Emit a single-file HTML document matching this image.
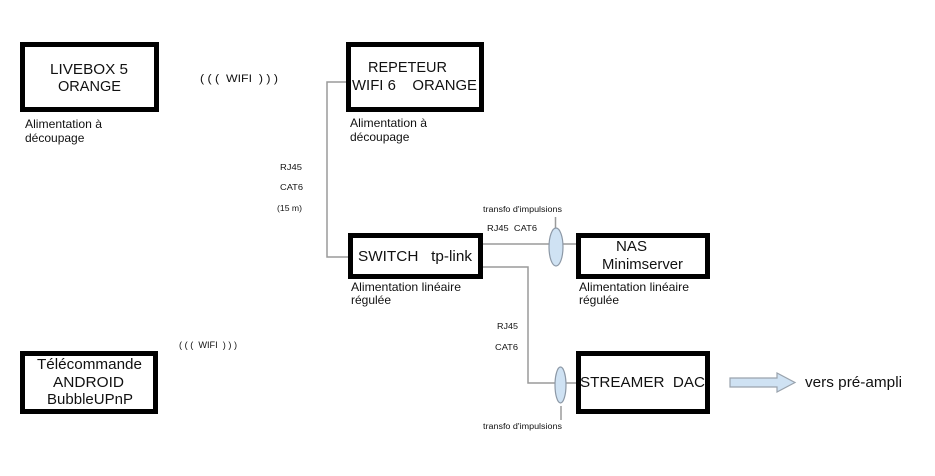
<!DOCTYPE html>
<html>
<head>
<meta charset="utf-8">
<style>
  html, body { margin: 0; padding: 0; background: #ffffff; }
  svg { display: block; }
  text { font-family: "Liberation Sans", Arial, sans-serif; fill: #111; }
</style>
</head>
<body>
<svg width="935" height="476" viewBox="0 0 935 476" xmlns="http://www.w3.org/2000/svg">
  <rect x="0" y="0" width="935" height="476" fill="#ffffff"/>

  <!-- connector lines -->
  <g stroke="#9a9a9a" stroke-width="1.5" fill="none">
    <polyline points="348,82 327,82 327,257 348,257"/>
    <line x1="483" y1="244" x2="576" y2="244"/>
    <polyline points="483,267 528,267 528,383 576,383"/>
    <line x1="555.5" y1="217" x2="555.5" y2="228"/>
    <line x1="561" y1="406" x2="561" y2="420"/>
  </g>

  <!-- transformers (ellipses) -->
  <ellipse cx="556" cy="247" rx="7" ry="19" fill="#cfe2f3" stroke="#8c98a6" stroke-width="1.2"/>
  <ellipse cx="560.5" cy="385" rx="5.5" ry="18" fill="#cfe2f3" stroke="#8c98a6" stroke-width="1.2"/>

  <!-- boxes -->
  <g fill="#ffffff" stroke="#000000" stroke-width="5">
    <rect x="22.5" y="44.5" width="134" height="65"/>
    <rect x="348.5" y="44.5" width="133" height="65"/>
    <rect x="350.5" y="235.5" width="130" height="41"/>
    <rect x="578.5" y="235.5" width="129" height="41"/>
    <rect x="578.5" y="353.5" width="129" height="58"/>
    <rect x="22.5" y="353.5" width="133" height="58"/>
  </g>

  <!-- arrow -->
  <polygon points="730,378 777,378 777,373 795,382.5 777,392 777,387 730,387" fill="#cfe2f3" stroke="#9aa3ad" stroke-width="1.2"/>

  <!-- box texts -->
  <g font-size="15">
    <text x="50" y="74" textLength="78" lengthAdjust="spacingAndGlyphs">LIVEBOX 5</text>
    <text x="58" y="91" textLength="63" lengthAdjust="spacingAndGlyphs">ORANGE</text>

    <text x="368" y="72" textLength="79" lengthAdjust="spacingAndGlyphs">REPETEUR</text>
    <text x="352" y="90" textLength="125" lengthAdjust="spacingAndGlyphs" xml:space="preserve">WIFI 6    ORANGE</text>

    <text x="358" y="261" textLength="114" lengthAdjust="spacingAndGlyphs" xml:space="preserve">SWITCH   tp-link</text>

    <text x="616" y="251" textLength="31" lengthAdjust="spacingAndGlyphs">NAS</text>
    <text x="602" y="269" textLength="81" lengthAdjust="spacingAndGlyphs">Minimserver</text>

    <text x="580" y="387" textLength="125" lengthAdjust="spacingAndGlyphs" xml:space="preserve">STREAMER  DAC</text>

    <text x="37" y="369" textLength="105" lengthAdjust="spacingAndGlyphs">Télécommande</text>
    <text x="53" y="387" textLength="71" lengthAdjust="spacingAndGlyphs">ANDROID</text>
    <text x="47" y="404" textLength="86" lengthAdjust="spacingAndGlyphs">BubbleUPnP</text>

    <text x="805" y="387" textLength="97" lengthAdjust="spacingAndGlyphs">vers pré-ampli</text>
  </g>

  <!-- power supply labels -->
  <g font-size="12">
    <text x="25" y="128" textLength="77" lengthAdjust="spacingAndGlyphs">Alimentation à</text>
    <text x="25" y="142">découpage</text>

    <text x="350" y="127" textLength="77" lengthAdjust="spacingAndGlyphs">Alimentation à</text>
    <text x="350" y="141">découpage</text>

    <text x="351" y="291" textLength="110" lengthAdjust="spacingAndGlyphs">Alimentation linéaire</text>
    <text x="351" y="304">régulée</text>

    <text x="579" y="291" textLength="110" lengthAdjust="spacingAndGlyphs">Alimentation linéaire</text>
    <text x="579" y="304">régulée</text>
  </g>

  <!-- wifi labels -->
  <text x="200" y="82" font-size="11" textLength="78" lengthAdjust="spacingAndGlyphs" xml:space="preserve">( ( (  WIFI  ) ) )</text>
  <text x="179" y="348" font-size="9" textLength="58" lengthAdjust="spacingAndGlyphs" xml:space="preserve">( ( (  WIFI  ) ) )</text>

  <!-- small cable labels -->
  <g font-size="8">
    <text x="280" y="170" textLength="22" lengthAdjust="spacingAndGlyphs">RJ45</text>
    <text x="280" y="190" textLength="23" lengthAdjust="spacingAndGlyphs">CAT6</text>
    <text x="277" y="211" textLength="25" lengthAdjust="spacingAndGlyphs">(15 m)</text>

    <text x="483" y="212" textLength="79" lengthAdjust="spacingAndGlyphs">transfo d'impulsions</text>
    <text x="487" y="231" textLength="50" lengthAdjust="spacingAndGlyphs" xml:space="preserve">RJ45  CAT6</text>

    <text x="497" y="329" textLength="21" lengthAdjust="spacingAndGlyphs">RJ45</text>
    <text x="495" y="350" textLength="23" lengthAdjust="spacingAndGlyphs">CAT6</text>

    <text x="483" y="429" textLength="79" lengthAdjust="spacingAndGlyphs">transfo d'impulsions</text>
  </g>
</svg>
</body>
</html>
